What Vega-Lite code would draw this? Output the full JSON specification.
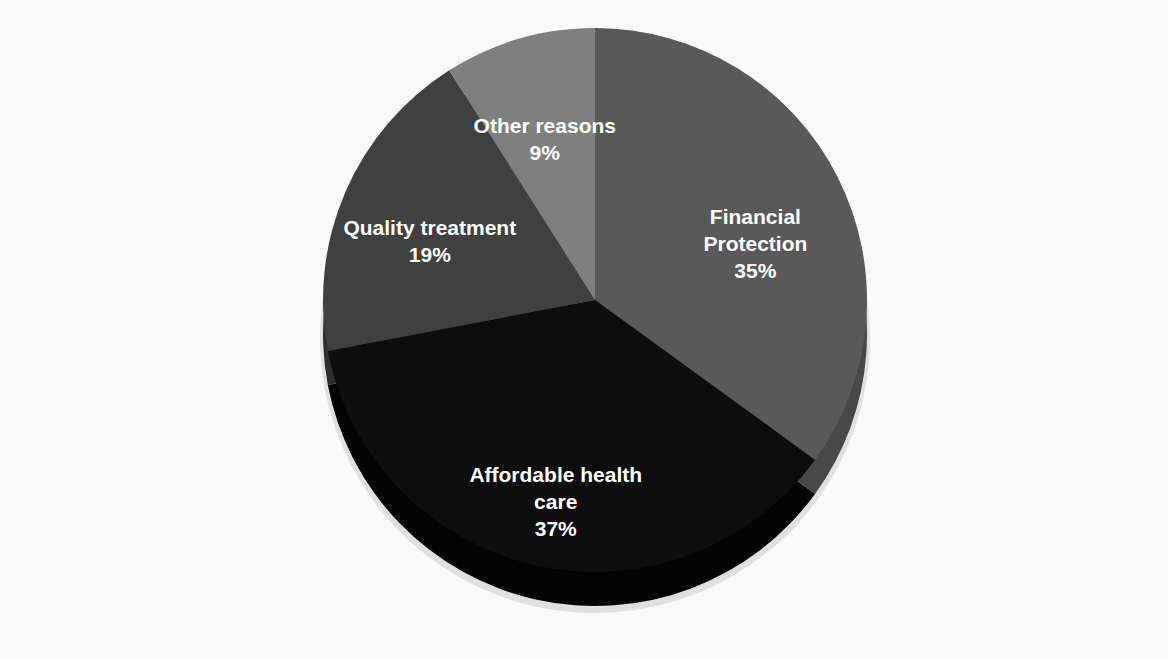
{
  "$schema": "https://vega.github.io/schema/vega-lite/v6.json",
  "autosize": {"type": "none"},
  "width": 1174,
  "height": 572,
  "padding": {"left": 8, "top": 14, "right": 0, "bottom": 73},
  "background": "#fafafa",
  "view": {"stroke": null, "fill": "#fafafa"},
  "config": {
    "text": {"font": "Liberation Sans"}
  },
  "data": {
    "values": [
      {"reason": "Financial Protection", "pct": 35, "rank": 1, "label": "Financial\nProtection\n35%"},
      {"reason": "Affordable health care", "pct": 37, "rank": 2, "label": "Affordable health\ncare\n37%"},
      {"reason": "Quality treatment", "pct": 19, "rank": 3, "label": "Quality treatment\n19%"},
      {"reason": "Other reasons", "pct": 9, "rank": 4, "label": "Other reasons\n9%"}
    ]
  },
  "encoding": {
    "theta": {"field": "pct", "type": "quantitative", "stack": true},
    "order": {"field": "rank", "type": "quantitative"}
  },
  "layer": [
    {
      "mark": {"type": "arc", "outerRadius": 275, "yOffset": 38, "fill": "#cfcfcf", "opacity": 0.6}
    },
    {
      "mark": {"type": "arc", "outerRadius": 272, "yOffset": 34},
      "encoding": {
        "color": {
          "field": "reason", "type": "nominal", "legend": null,
          "scale": {
            "domain": ["Financial Protection", "Affordable health care", "Quality treatment", "Other reasons"],
            "range": ["#484848", "#030303", "#2e2e2e", "#6a6a6a"]
          }
        }
      }
    },
    {
      "mark": {"type": "arc", "outerRadius": 272},
      "encoding": {
        "fill": {
          "field": "reason", "type": "nominal", "legend": null,
          "scale": {
            "domain": ["Financial Protection", "Affordable health care", "Quality treatment", "Other reasons"],
            "range": ["#595959", "#0d0d0d", "#404040", "#7f7f7f"]
          }
        }
      }
    },
    {
      "mark": {
        "type": "text", "radius": 180, "fontSize": 21, "fontWeight": "bold",
        "fill": "white", "lineBreak": "\n", "lineHeight": 27,
        "align": "center", "baseline": "middle"
      },
      "encoding": {"text": {"field": "label", "type": "nominal"}}
    }
  ]
}
